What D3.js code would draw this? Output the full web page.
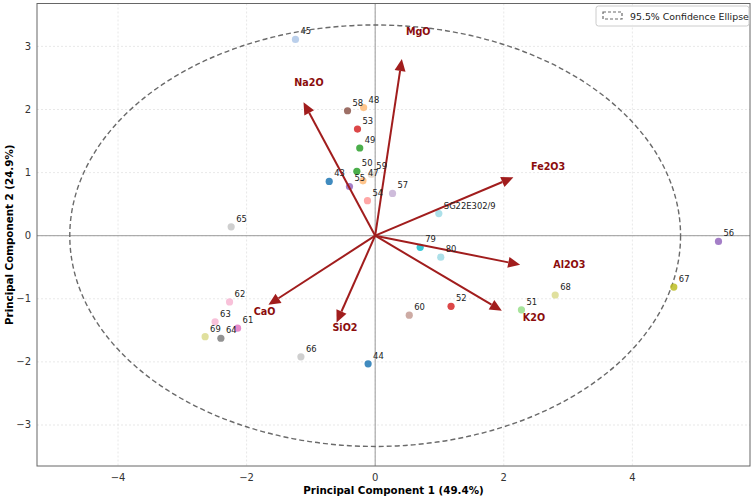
<!DOCTYPE html>
<html>
<head>
<meta charset="utf-8">
<script src="https://cdn.jsdelivr.net/npm/d3@7"></script>
<style>
  body { margin: 0; background: #fff; }
  svg { font-family: "DejaVu Sans", sans-serif; }
</style>
</head>
<body>
<div id="chart"></div>
<script>
// Sample scores
const samples = ["43", "44", "45", "47", "48", "49", "50", "51", "52", "53", "54", "55", "56", "57", "58",
  "59", "60", "61", "62", "63", "64", "65", "66", "67", "68", "69", "79", "80", "SG22E302/9"];
const pc1 = [-0.715, -0.11, -1.24, -0.19, -0.18, -0.24, -0.285, 2.275, 1.18, -0.275, -0.12, -0.40, 5.34, 0.27, -0.43,
  -0.06, 0.53, -2.14, -2.265, -2.49, -2.40, -2.24, -1.155, 4.645, 2.80, -2.645, 0.70, 1.02, 0.99];
const pc2 = [0.86, -2.03, 3.11, 0.87, 2.03, 1.39, 1.02, -1.175, -1.12, 1.69, 0.555, 0.78, -0.09, 0.67, 1.98,
  0.97, -1.26, -1.465, -1.05, -1.365, -1.625, 0.14, -1.92, -0.815, -0.94, -1.60, -0.185, -0.34, 0.35];

// Loadings (arrow tips) and their label spots
const oxides = ["MgO", "Na2O", "Fe2O3", "Al2O3", "K2O", "CaO", "SiO2"];
const loadX = [0.415, -1.115, 2.15, 2.255, 1.97, -1.66, -0.6];
const loadY = [2.80, 2.115, 0.925, -0.46, -1.19, -1.095, -1.375];
const oxLabelX = [0.67, -1.03, 2.69, 3.02, 2.47, -1.72, -0.47];
const oxLabelY = [3.24, 2.43, 1.10, -0.46, -1.30, -1.20, -1.46];

// Confidence ellipse semi-axes
const ellipseRx = 4.75;
const ellipseRy = 3.34;

const xTicks = [-4, -2, 0, 2, 4];
const yTicks = [-3, -2, -1, 0, 1, 2, 3];

const palette = {
  "43": "#1f77b4", "44": "#1f77b4", "45": "#aec7e8", "47": "#ffbb78", "48": "#ffbb78",
  "49": "#2ca02c", "50": "#2ca02c", "51": "#98df8a", "52": "#d62728", "53": "#d62728",
  "54": "#ff9896", "55": "#9467bd", "56": "#9467bd", "57": "#c5b0d5", "58": "#8c564b",
  "59": "#e8d8c8", "60": "#c49c94", "61": "#e377c2", "62": "#f7b6d2", "63": "#f7b6d2",
  "64": "#7f7f7f", "65": "#c7c7c7", "66": "#c7c7c7", "67": "#bcbd22", "68": "#dbdb8d",
  "69": "#dbdb8d", "79": "#17becf", "80": "#9edae5", "SG22E302/9": "#9edae5"
};

const W = 755, H = 498;
const L = 37, R = 750, T = 3.5, B = 466;

const svg = d3.select("#chart").append("svg").attr("width", W).attr("height", H);

const x = d3.scaleLinear().domain([-5.26, 5.83]).range([L, R]);
const y = d3.scaleLinear().domain([-3.65, 3.68]).range([B, T]);

// grid
svg.append("g").selectAll("line").data(xTicks).enter().append("line")
  .attr("x1", d => x(d)).attr("x2", d => x(d)).attr("y1", T).attr("y2", B)
  .attr("stroke", "#e2e2e2").attr("stroke-width", 0.8).attr("stroke-dasharray", "2,2");
svg.append("g").selectAll("line").data(yTicks).enter().append("line")
  .attr("x1", L).attr("x2", R).attr("y1", d => y(d)).attr("y2", d => y(d))
  .attr("stroke", "#e2e2e2").attr("stroke-width", 0.8).attr("stroke-dasharray", "2,2");

// zero lines
svg.append("line").attr("x1", x(0)).attr("x2", x(0)).attr("y1", T).attr("y2", B)
  .attr("stroke", "#9a9a9a").attr("stroke-width", 1);
svg.append("line").attr("x1", L).attr("x2", R).attr("y1", y(0)).attr("y2", y(0))
  .attr("stroke", "#9a9a9a").attr("stroke-width", 1);

// ellipse
svg.append("ellipse")
  .attr("cx", x(0)).attr("cy", y(0))
  .attr("rx", x(ellipseRx) - x(0)).attr("ry", y(0) - y(ellipseRy))
  .attr("fill", "none").attr("stroke", "#6a6a6a").attr("stroke-width", 1.4)
  .attr("stroke-dasharray", "5,3");

// points
const pts = samples.map((s, i) => ({ name: s, x: pc1[i], y: pc2[i] }));
svg.append("g").selectAll("circle").data(pts).enter().append("circle")
  .attr("cx", d => x(d.x)).attr("cy", d => y(d.y)).attr("r", 3.6)
  .attr("fill", d => palette[d.name]).attr("fill-opacity", 0.85);

// arrows
const arrowColor = "#a11d1d";
const arrows = svg.append("g");
oxides.forEach((o, i) => {
  const x0 = x(0), y0 = y(0), x1 = x(loadX[i]), y1 = y(loadY[i]);
  const ang = Math.atan2(y1 - y0, x1 - x0);
  const hl = 12, hw = 5.5;
  const bx = x1 - hl * Math.cos(ang), by = y1 - hl * Math.sin(ang);
  arrows.append("line")
    .attr("x1", x0).attr("y1", y0).attr("x2", bx).attr("y2", by)
    .attr("stroke", arrowColor).attr("stroke-width", 2);
  const px = -Math.sin(ang), py = Math.cos(ang);
  arrows.append("polygon")
    .attr("points", [[x1, y1], [bx + hw * px, by + hw * py], [bx - hw * px, by - hw * py]].map(p => p.join(",")).join(" "))
    .attr("fill", arrowColor);
  arrows.append("text")
    .attr("x", x(oxLabelX[i])).attr("y", y(oxLabelY[i]))
    .attr("text-anchor", "middle").attr("dominant-baseline", "central")
    .attr("font-size", "9.6px").attr("font-weight", "bold").attr("fill", "#8b0d0d")
    .text(o);
});

// point labels
svg.append("g").selectAll("text").data(pts).enter().append("text")
  .attr("x", d => x(d.x) + 5).attr("y", d => y(d.y) - 5)
  .attr("font-size", "8.4px").attr("fill", "#222")
  .text(d => d.name);

// frame
svg.append("rect").attr("x", L).attr("y", T).attr("width", R - L).attr("height", B - T)
  .attr("fill", "none").attr("stroke", "#666").attr("stroke-width", 1);

// tick labels
svg.append("g").selectAll("text").data(xTicks).enter().append("text")
  .attr("x", d => x(d)).attr("y", B + 15)
  .attr("text-anchor", "middle").attr("font-size", "10px").attr("fill", "#333")
  .text(d => d < 0 ? "\u2212" + Math.abs(d) : d);
svg.append("g").selectAll("text").data(yTicks).enter().append("text")
  .attr("x", L - 6).attr("y", d => y(d)).attr("dominant-baseline", "central")
  .attr("text-anchor", "end").attr("font-size", "10px").attr("fill", "#333")
  .text(d => d < 0 ? "\u2212" + Math.abs(d) : d);

// axis titles
svg.append("text").attr("x", (L + R) / 2).attr("y", 494)
  .attr("text-anchor", "middle").attr("font-size", "10.3px").attr("font-weight", "bold")
  .text("Principal Component 1 (49.4%)");
svg.append("text").attr("transform", "translate(13," + (T + B) / 2 + ") rotate(-90)")
  .attr("text-anchor", "middle").attr("font-size", "10.3px").attr("font-weight", "bold")
  .text("Principal Component 2 (24.9%)");

// legend
const lg = svg.append("g").attr("transform", "translate(596,6)");
lg.append("rect").attr("width", 153).attr("height", 20).attr("rx", 2.5)
  .attr("fill", "#fff").attr("fill-opacity", 0.85).attr("stroke", "#cccccc");
lg.append("rect").attr("x", 7).attr("y", 6).attr("width", 19).attr("height", 7)
  .attr("fill", "none").attr("stroke", "#6a6a6a").attr("stroke-width", 1.2).attr("stroke-dasharray", "3,2");
lg.append("text").attr("x", 34).attr("y", 10).attr("dominant-baseline", "central")
  .attr("font-size", "9.4px").attr("fill", "#222").text("95.5% Confidence Ellipse");
</script>
</body>
</html>
